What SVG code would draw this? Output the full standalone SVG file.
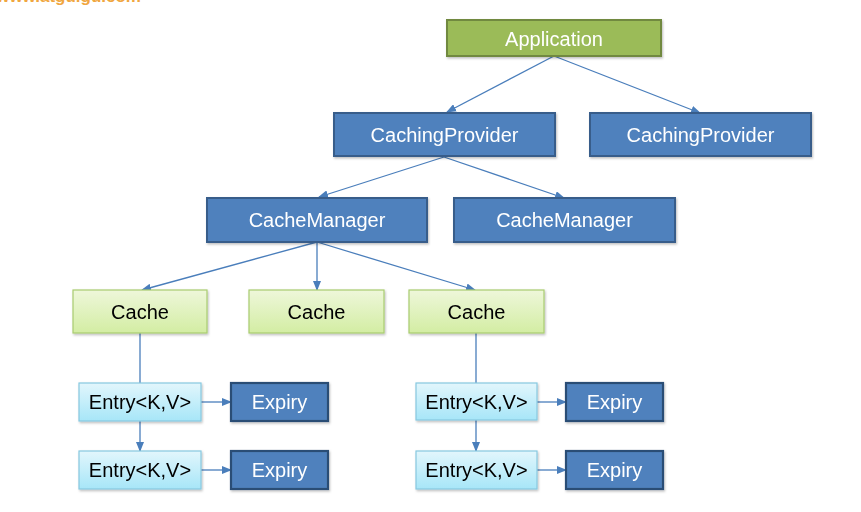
<svg xmlns="http://www.w3.org/2000/svg" width="861" height="512" viewBox="0 0 861 512">
<defs>
<linearGradient id="gGreen" x1="0" y1="0" x2="0" y2="1">
<stop offset="0" stop-color="#EEF7DA"/><stop offset="1" stop-color="#D3EDA3"/>
</linearGradient>
<linearGradient id="gCyan" x1="0" y1="0" x2="0" y2="1">
<stop offset="0" stop-color="#E2F6FC"/><stop offset="1" stop-color="#A7E6F8"/>
</linearGradient>
<filter id="sh" x="-10%" y="-10%" width="120%" height="130%">
<feDropShadow dx="1" dy="1.5" stdDeviation="1" flood-color="#000" flood-opacity="0.25"/>
</filter>
<marker id="arr" markerWidth="10" markerHeight="8" refX="9" refY="4" orient="auto" markerUnits="userSpaceOnUse">
<path d="M0,0 L10,4 L0,8 Z" fill="#4A7EBB"/>
</marker>
</defs>
<style>
.app{fill:#9BBB59;stroke:#71893F;stroke-width:2}
.blue{fill:#4F81BD;stroke:#385D8A;stroke-width:2}
.exp{fill:#4F81BD;stroke:#2C4D75;stroke-width:2.2}
.cache{fill:url(#gGreen);stroke:#A9CC70;stroke-width:1.2}
.entry{fill:url(#gCyan);stroke:#87C9E0;stroke-width:1.2}
.lt{font-family:"Liberation Sans",Arial,sans-serif;font-size:20px;fill:#FFFFFF;text-anchor:middle;dominant-baseline:central}
.dt{font-family:"Liberation Sans",Arial,sans-serif;font-size:20px;fill:#000000;text-anchor:middle;dominant-baseline:central}
.c{stroke:#4A7EBB;stroke-width:1.3;fill:none}
.ca{stroke:#4A7EBB;stroke-width:1.3;fill:none;marker-end:url(#arr)}
</style>
<rect width="861" height="512" fill="#FFFFFF"/>
<text x="141" y="2" font-family="Liberation Sans,Arial,sans-serif" font-size="17" font-weight="bold" fill="#F0A640" text-anchor="end">www.atguigu.com</text>

<g id="connectors">
<line class="ca" x1="554" y1="56" x2="447" y2="112"/>
<line class="ca" x1="554" y1="56" x2="700" y2="113"/>
<line class="ca" x1="444" y1="157" x2="319" y2="197"/>
<line class="ca" x1="444" y1="157" x2="564" y2="198"/>
<line class="ca" x1="317" y1="242" x2="142" y2="290"/>
<line class="ca" x1="317" y1="242" x2="317" y2="290"/>
<line class="ca" x1="317" y1="242" x2="475" y2="290"/>
<line class="c" x1="140" y1="333" x2="140" y2="383"/>
<line class="ca" x1="140" y1="421" x2="140" y2="451"/>
<line class="ca" x1="201" y1="402" x2="231" y2="402"/>
<line class="ca" x1="201" y1="470" x2="231" y2="470"/>
<line class="c" x1="476" y1="333" x2="476" y2="383"/>
<line class="ca" x1="476" y1="420" x2="476" y2="451"/>
<line class="ca" x1="537" y1="402" x2="566" y2="402"/>
<line class="ca" x1="537" y1="470" x2="566" y2="470"/>
</g>

<g id="application" filter="url(#sh)"><rect class="app" x="447" y="20" width="214" height="36"/><text class="lt" x="554" y="39">Application</text></g>
<g id="cachingProvider1" filter="url(#sh)"><rect class="blue" x="334" y="113" width="221" height="43"/><text class="lt" x="444.5" y="135">CachingProvider</text></g>
<g id="cachingProvider2" filter="url(#sh)"><rect class="blue" x="590" y="113" width="221" height="43"/><text class="lt" x="700.5" y="135">CachingProvider</text></g>
<g id="cacheManager1" filter="url(#sh)"><rect class="blue" x="207" y="198" width="220" height="44"/><text class="lt" x="317" y="220">CacheManager</text></g>
<g id="cacheManager2" filter="url(#sh)"><rect class="blue" x="454" y="198" width="221" height="44"/><text class="lt" x="564.5" y="220">CacheManager</text></g>
<g id="cache1" filter="url(#sh)"><rect class="cache" x="73" y="290" width="134" height="43"/><text class="dt" x="140" y="312">Cache</text></g>
<g id="cache2" filter="url(#sh)"><rect class="cache" x="249" y="290" width="135" height="43"/><text class="dt" x="316.5" y="312">Cache</text></g>
<g id="cache3" filter="url(#sh)"><rect class="cache" x="409" y="290" width="135" height="43"/><text class="dt" x="476.5" y="312">Cache</text></g>
<g id="entry1" filter="url(#sh)"><rect class="entry" x="79" y="383" width="122" height="38"/><text class="dt" x="140" y="402">Entry&lt;K,V&gt;</text></g>
<g id="expiry1" filter="url(#sh)"><rect class="exp" x="231" y="383" width="97" height="38"/><text class="lt" x="279.5" y="402">Expiry</text></g>
<g id="entry2" filter="url(#sh)"><rect class="entry" x="79" y="451" width="122" height="38"/><text class="dt" x="140" y="470">Entry&lt;K,V&gt;</text></g>
<g id="expiry2" filter="url(#sh)"><rect class="exp" x="231" y="451" width="97" height="38"/><text class="lt" x="279.5" y="470">Expiry</text></g>
<g id="entry3" filter="url(#sh)"><rect class="entry" x="416" y="383" width="121" height="37"/><text class="dt" x="476.5" y="402">Entry&lt;K,V&gt;</text></g>
<g id="expiry3" filter="url(#sh)"><rect class="exp" x="566" y="383" width="97" height="38"/><text class="lt" x="614.5" y="402">Expiry</text></g>
<g id="entry4" filter="url(#sh)"><rect class="entry" x="416" y="451" width="121" height="38"/><text class="dt" x="476.5" y="470">Entry&lt;K,V&gt;</text></g>
<g id="expiry4" filter="url(#sh)"><rect class="exp" x="566" y="451" width="97" height="38"/><text class="lt" x="614.5" y="470">Expiry</text></g>
</svg>
